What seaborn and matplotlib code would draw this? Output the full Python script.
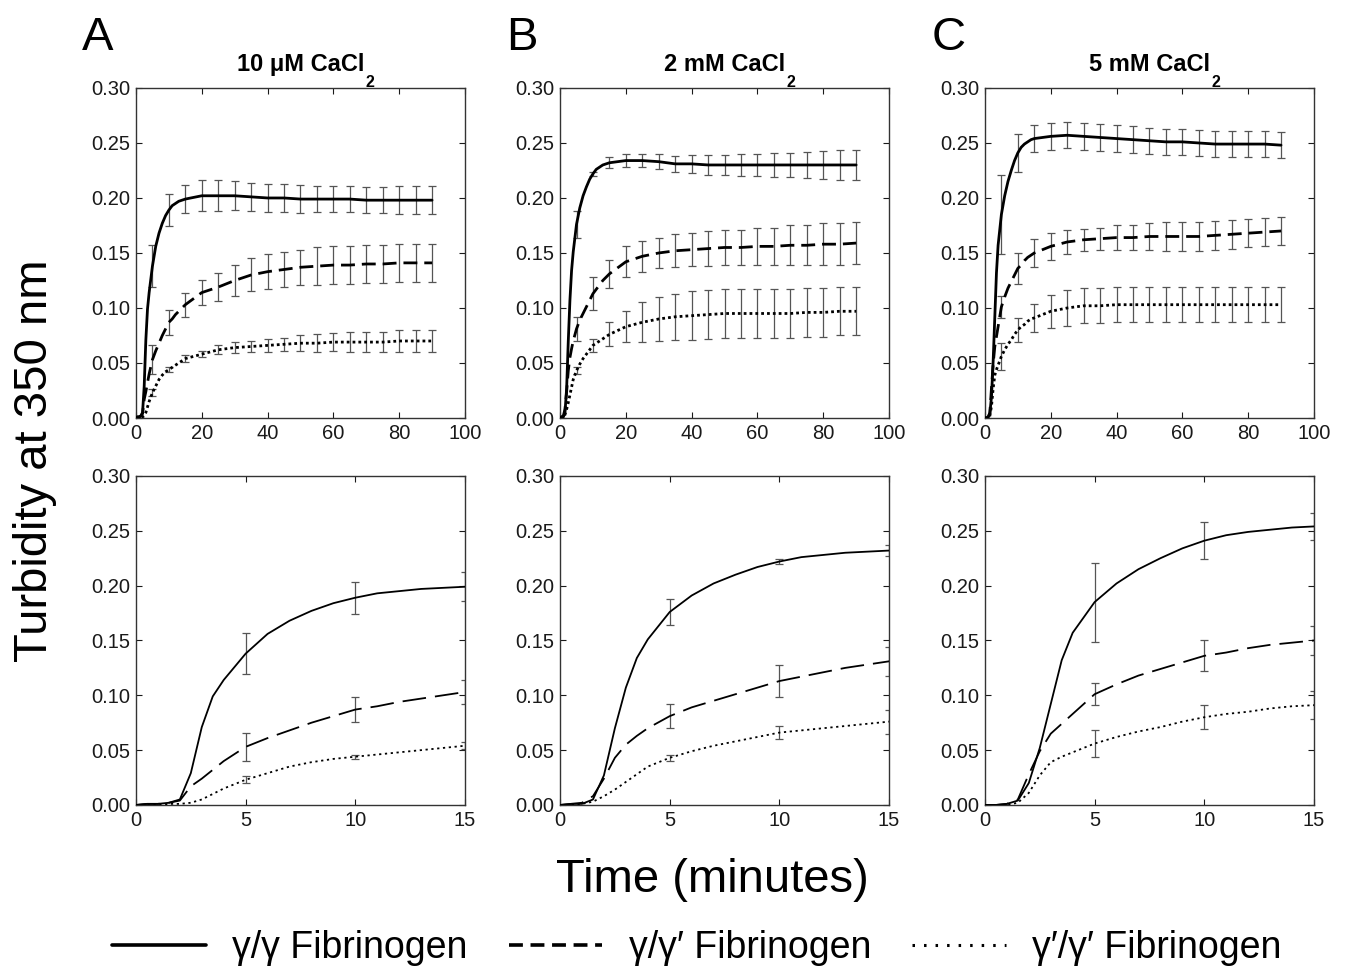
import pandas as pd
import matplotlib
matplotlib.use("Agg")
import matplotlib.pyplot as plt
from matplotlib.lines import Line2D
from matplotlib.ticker import FormatStrFormatter
import seaborn as sns

# sampling times (minutes)
time_min = [0, 0.5, 1, 1.5, 2, 2.5, 3, 3.5, 4,
            5, 6, 7, 8, 9, 10, 11, 12, 13, 14, 15,
            20, 25, 30, 35, 40, 45, 50, 55, 60, 65, 70, 75, 80, 85, 90]
err_time = [5, 10, 15, 20, 25, 30, 35, 40, 45, 50, 55, 60, 65, 70, 75, 80, 85, 90]

fib_names = ["γ/γ Fibrinogen", "γ/γ′ Fibrinogen", "γ′/γ′ Fibrinogen"]
conc_labels = ["10 μM CaCl", "2 mM CaCl", "5 mM CaCl"]
panel_letters = ["A", "B", "C"]

# A: 10 uM CaCl2
a_gg = [0.000, 0.001, 0.001, 0.002, 0.005, 0.029, 0.071, 0.099, 0.114,
        0.138, 0.156, 0.168, 0.177, 0.184, 0.189, 0.193, 0.195, 0.197, 0.198, 0.199,
        0.202, 0.202, 0.202, 0.201, 0.200, 0.200, 0.199, 0.199, 0.199, 0.199, 0.198, 0.198, 0.198, 0.198, 0.198]
a_ggp = [0.000, 0.001, 0.001, 0.002, 0.004, 0.017, 0.024, 0.032, 0.040,
         0.053, 0.061, 0.068, 0.075, 0.081, 0.087, 0.090, 0.094, 0.097, 0.100, 0.103,
         0.114, 0.119, 0.125, 0.130, 0.133, 0.135, 0.137, 0.138, 0.139, 0.139, 0.140, 0.140, 0.141, 0.141, 0.141]
a_gpgp = [0.000, 0.000, 0.000, 0.001, 0.001, 0.002, 0.005, 0.010, 0.015,
          0.023, 0.029, 0.035, 0.039, 0.042, 0.044, 0.046, 0.048, 0.050, 0.052, 0.054,
          0.058, 0.062, 0.064, 0.065, 0.066, 0.067, 0.068, 0.068, 0.069, 0.069, 0.069, 0.069, 0.070, 0.070, 0.070]
a_gg_err = [0.019, 0.0145, 0.013, 0.014, 0.014, 0.013, 0.013, 0.013, 0.013,
            0.013, 0.012, 0.012, 0.012, 0.012, 0.012, 0.013, 0.013, 0.013]
a_ggp_err = [0.013, 0.0115, 0.011, 0.011, 0.013, 0.014, 0.015, 0.016, 0.016,
             0.016, 0.017, 0.017, 0.017, 0.017, 0.017, 0.017, 0.017, 0.017]
a_gpgp_err = [0.003, 0.002, 0.003, 0.003, 0.004, 0.005, 0.005, 0.006, 0.006,
              0.007, 0.008, 0.008, 0.009, 0.009, 0.009, 0.010, 0.010, 0.010]

# B: 2 mM CaCl2
b_gg = [0.000, 0.001, 0.001, 0.005, 0.027, 0.070, 0.107, 0.134, 0.151,
        0.176, 0.191, 0.202, 0.210, 0.217, 0.222, 0.226, 0.228, 0.230, 0.231, 0.232,
        0.234, 0.234, 0.233, 0.231, 0.231, 0.230, 0.230, 0.230, 0.230, 0.230, 0.230, 0.230, 0.230, 0.230, 0.230]
b_ggp = [0.000, 0.001, 0.002, 0.008, 0.024, 0.043, 0.055, 0.063, 0.070,
         0.081, 0.089, 0.095, 0.101, 0.107, 0.113, 0.117, 0.121, 0.125, 0.128, 0.131,
         0.142, 0.147, 0.150, 0.152, 0.153, 0.154, 0.155, 0.155, 0.156, 0.156, 0.157, 0.157, 0.158, 0.158, 0.159]
b_gpgp = [0.000, 0.000, 0.001, 0.003, 0.008, 0.014, 0.021, 0.028, 0.035,
          0.043, 0.049, 0.054, 0.058, 0.062, 0.066, 0.068, 0.070, 0.072, 0.074, 0.076,
          0.083, 0.087, 0.090, 0.092, 0.093, 0.094, 0.095, 0.095, 0.095, 0.095, 0.095, 0.096, 0.096, 0.097, 0.097]
b_gg_err = [0.012, 0.002, 0.005, 0.006, 0.006, 0.007, 0.007, 0.008, 0.009,
            0.009, 0.010, 0.010, 0.011, 0.011, 0.012, 0.013, 0.014, 0.014]
b_ggp_err = [0.011, 0.015, 0.013, 0.014, 0.014, 0.014, 0.015, 0.015, 0.016,
             0.016, 0.016, 0.017, 0.017, 0.018, 0.018, 0.019, 0.019, 0.019]
b_gpgp_err = [0.003, 0.006, 0.011, 0.014, 0.018, 0.020, 0.021, 0.022, 0.022,
              0.022, 0.022, 0.022, 0.022, 0.022, 0.022, 0.022, 0.022, 0.022]

# C: 5 mM CaCl2
c_gg = [0.000, 0.000, 0.001, 0.004, 0.020, 0.052, 0.092, 0.132, 0.157,
        0.185, 0.202, 0.215, 0.225, 0.234, 0.241, 0.246, 0.249, 0.251, 0.253, 0.254,
        0.256, 0.257, 0.256, 0.255, 0.254, 0.253, 0.252, 0.251, 0.251, 0.250, 0.249, 0.249, 0.249, 0.249, 0.248]
c_ggp = [0.000, 0.000, 0.001, 0.005, 0.028, 0.049, 0.065, 0.074, 0.083,
         0.101, 0.110, 0.118, 0.124, 0.130, 0.136, 0.139, 0.143, 0.146, 0.148, 0.150,
         0.156, 0.160, 0.162, 0.163, 0.164, 0.164, 0.165, 0.165, 0.165, 0.165, 0.166, 0.167, 0.168, 0.169, 0.170]
c_gpgp = [0.000, 0.000, 0.000, 0.002, 0.011, 0.027, 0.039, 0.044, 0.048,
          0.056, 0.062, 0.067, 0.071, 0.076, 0.080, 0.083, 0.085, 0.088, 0.090, 0.091,
          0.097, 0.100, 0.102, 0.102, 0.103, 0.103, 0.103, 0.103, 0.103, 0.103, 0.103, 0.103, 0.103, 0.103, 0.103]
c_gg_err = [0.036, 0.017, 0.012, 0.012, 0.012, 0.012, 0.012, 0.012, 0.012,
            0.012, 0.012, 0.012, 0.012, 0.012, 0.012, 0.012, 0.012, 0.012]
c_ggp_err = [0.010, 0.014, 0.013, 0.012, 0.011, 0.010, 0.010, 0.011, 0.011,
             0.012, 0.013, 0.013, 0.013, 0.013, 0.013, 0.013, 0.013, 0.013]
c_gpgp_err = [0.012, 0.011, 0.013, 0.015, 0.016, 0.016, 0.016, 0.016, 0.016,
              0.016, 0.016, 0.016, 0.016, 0.016, 0.016, 0.016, 0.016, 0.016]

curves = [[a_gg, a_ggp, a_gpgp], [b_gg, b_ggp, b_gpgp], [c_gg, c_ggp, c_gpgp]]
errors = [[a_gg_err, a_ggp_err, a_gpgp_err], [b_gg_err, b_ggp_err, b_gpgp_err],
          [c_gg_err, c_ggp_err, c_gpgp_err]]

rows = []
for conc, series in zip(conc_labels, curves):
    for name, vals in zip(fib_names, series):
        for t, v in zip(time_min, vals):
            rows.append({"CaCl2": conc, "Fibrinogen": name, "Time": t, "Turbidity": v})
df = pd.DataFrame(rows)

err_rows = []
for conc, series, errs in zip(conc_labels, curves, errors):
    for name, vals, ev in zip(fib_names, series, errs):
        lookup = dict(zip(time_min, vals))
        for t, e in zip(err_time, ev):
            err_rows.append({"CaCl2": conc, "Fibrinogen": name, "Time": t,
                             "Turbidity": lookup[t], "Err": e})
df_err = pd.DataFrame(err_rows)

sns.set_theme(style="ticks")
plt.rcParams["font.family"] = ["Liberation Sans", "DejaVu Sans"]
plt.rcParams["lines.scale_dashes"] = False
plt.rcParams["text.color"] = "black"

fig = plt.figure(figsize=(13.45, 9.73), dpi=100)

lefts = [0.1011, 0.4164, 0.7323]
row_cfg = [
    # bottom, height, xlim, xticks, linewidth, dashes, capsize
    (0.5704, 0.3392, 100, [0, 20, 40, 60, 80, 100], 2.0,
     {fib_names[0]: "", fib_names[1]: (10, 5), fib_names[2]: (2, 2.2)}, 3.2),
    (0.1727, 0.3381, 15, [0, 5, 10, 15], 1.3,
     {fib_names[0]: "", fib_names[1]: (17, 6.5), fib_names[2]: (1.6, 2.6)}, 2.8),
]

for r, (bottom, height, xmax, xticks, lw, dashes, cap) in enumerate(row_cfg):
    for i, conc in enumerate(conc_labels):
        ax = fig.add_axes([lefts[i], bottom, 0.2446, height])
        sub = df[df["CaCl2"] == conc]
        sns.lineplot(data=sub, x="Time", y="Turbidity", style="Fibrinogen",
                     style_order=fib_names, dashes=dashes, color="black",
                     linewidth=lw, legend=False, errorbar=None, ax=ax, zorder=3)
        sub_e = df_err[(df_err["CaCl2"] == conc) & (df_err["Time"] <= xmax)]
        ax.errorbar(sub_e["Time"], sub_e["Turbidity"], yerr=sub_e["Err"], fmt="none",
                    ecolor="#555555", elinewidth=0.9, capsize=cap, capthick=0.9, zorder=2)
        ax.set_xlim(0, xmax)
        ax.set_ylim(0, 0.30)
        ax.set_xticks(xticks)
        ax.set_yticks([0, 0.05, 0.10, 0.15, 0.20, 0.25, 0.30])
        ax.yaxis.set_major_formatter(FormatStrFormatter("%.2f"))
        ax.set_xlabel("")
        ax.set_ylabel("")
        ax.tick_params(direction="in", top=True, right=True, length=4, width=0.8,
                       labelsize=14.5, colors="#1a1a1a", pad=4)
        for sp in ax.spines.values():
            sp.set_color("#333333")
            sp.set_linewidth(1.0)
        if r == 0:
            t = ax.set_title(conc, fontsize=17, fontweight="bold", pad=12,
                             color="black")
            ax.annotate("2", xy=(1, 0), xycoords=t, xytext=(1, 1),
                        textcoords="offset points", fontsize=11.5, fontweight="bold",
                        ha="left", va="top")
            fig.text(lefts[i] - 0.040, 0.9486, panel_letters[i], fontsize=34,
                     ha="left", va="baseline")

fig.text(0.026, 0.527, "Turbidity at 350 nm", rotation=90, fontsize=34,
         ha="center", va="center")
fig.text(0.530, 0.0956, "Time (minutes)", fontsize=34, ha="center", va="center")

handles = [
    Line2D([], [], color="black", lw=2.6),
    Line2D([], [], color="black", lw=2.6, dashes=(10, 5.5)),
    Line2D([], [], color="black", lw=2.2, dashes=(1.8, 6.5)),
]
fig.legend(handles, fib_names, loc="center", bbox_to_anchor=(0.518, 0.026),
           ncol=3, frameon=False, fontsize=27, handlelength=2.5,
           handletextpad=0.7, columnspacing=1.1)

fig.savefig("out.png", dpi=100)
